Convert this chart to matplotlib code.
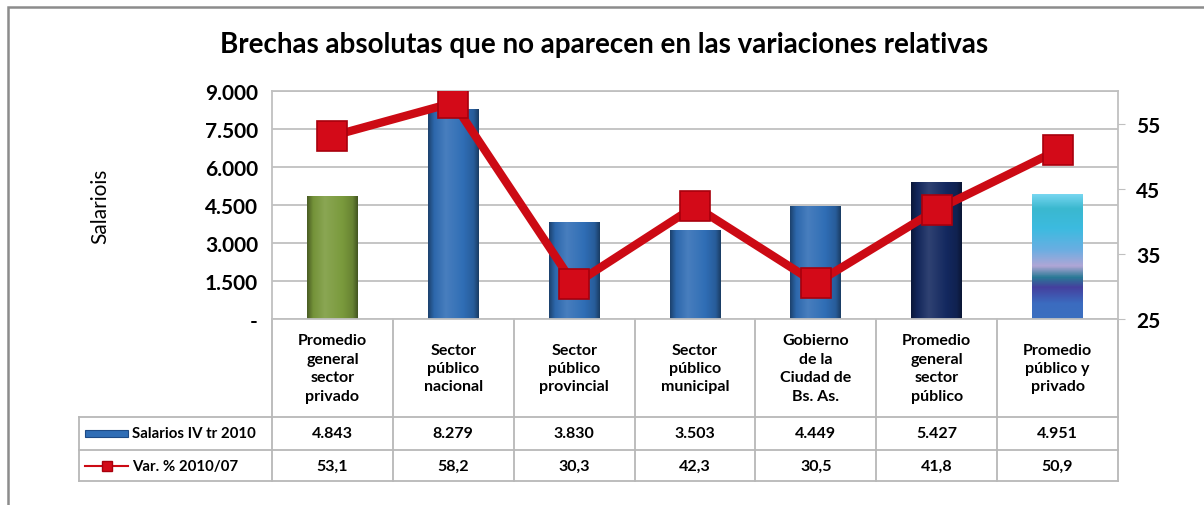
import matplotlib.pyplot as plt
import numpy as np
from matplotlib.patches import Rectangle
from matplotlib.colors import LinearSegmentedColormap
from matplotlib.ticker import FuncFormatter, FixedLocator

# Datos del gráfico
categorias = ["Promedio\ngeneral\nsector\nprivado", "Sector\npúblico\nnacional",
              "Sector\npúblico\nprovincial", "Sector\npúblico\nmunicipal",
              "Gobierno\nde la\nCiudad de\nBs. As.", "Promedio\ngeneral\nsector\npúblico",
              "Promedio\npúblico y\nprivado"]
salarios = [4843, 8279, 3830, 3503, 4449, 5427, 4951]
variacion = [53.1, 58.2, 30.3, 42.3, 30.5, 41.8, 50.9]
serie_salarios = "Salarios IV tr 2010"
serie_var = "Var. % 2010/07"
titulo = "Brechas absolutas que no aparecen en las variaciones relativas"

plt.rcParams['font.family'] = ['Lato', 'DejaVu Sans']

W, H = 1204, 506
fig = plt.figure(figsize=(W / 100, H / 100), dpi=100)

# Marco exterior (cortado a la derecha y abajo como en el original)
fig.patches.append(Rectangle((8 / W, -0.05), 1.1, 1 - 8 / H + 0.05, transform=fig.transFigure,
                             fill=False, edgecolor='#8c8c8c', linewidth=1.8))

left, right, top, bottom = 272, 1118, 92, 320
ax = fig.add_axes([left / W, 1 - bottom / H, (right - left) / W, (bottom - top) / H])
x = np.arange(len(salarios))

grid_col = '#c0c0c0'
ax.set_xlim(-0.5, len(salarios) - 0.5)
ax.set_ylim(0, 9000)
ax.yaxis.set_major_locator(FixedLocator(np.arange(0, 9001, 1500)))
ax.yaxis.set_major_formatter(FuncFormatter(lambda v, p: '-' if v == 0 else f"{v:,.0f}".replace(',', '.')))
ax.grid(axis='y', color=grid_col, linewidth=1.3)
ax.set_axisbelow(True)
ax.set_xticks([])
ax.tick_params(axis='y', length=0, pad=10, labelsize=15)
for lbl in ax.get_yticklabels():
    lbl.set_fontweight('bold')
for s in ax.spines.values():
    s.set_color(grid_col)
    s.set_linewidth(1.3)
ax.set_ylabel("Salariois", fontsize=15, labelpad=68)

# Barras con degradado
base_colors = ['#7a9a3c', '#2f6db5', '#2f6db5', '#2f6db5', '#2f6db5', '#13285f', None]
bars = ax.bar(x, salarios, width=0.42, color=[c if c else '#3a8fd0' for c in base_colors],
              edgecolor='none', zorder=2)


def shade(c, f):
    c = np.array(plt.matplotlib.colors.to_rgb(c))
    return tuple(np.clip(c * f if f < 1 else c + (1 - c) * (f - 1), 0, 1))


for b, c in zip(bars, base_colors):
    x0, w, h = b.get_x(), b.get_width(), b.get_height()
    if c is None:
        cmap = LinearSegmentedColormap.from_list('g', [
            (0.0, '#3b6fbf'), (0.12, '#3b6cc0'), (0.25, '#45409e'), (0.33, '#2a7a96'),
            (0.42, '#b0a6d6'), (0.55, '#6aaee2'), (0.72, '#3cbbe0'), (0.88, '#3ab8cf'), (1.0, '#7ad8f2')])
        img = np.linspace(0, 1, 200).reshape(-1, 1)
        im = ax.imshow(img, cmap=cmap, extent=[x0, x0 + w, 0, h], origin='lower',
                       aspect='auto', zorder=2.1)
    else:
        cmap = LinearSegmentedColormap.from_list('g', [
            (0.0, shade(c, 0.6)), (0.12, shade(c, 0.95)), (0.35, shade(c, 1.12)),
            (0.7, shade(c, 1.0)), (0.9, shade(c, 0.85)), (1.0, shade(c, 0.55))])
        img = np.linspace(0, 1, 200).reshape(1, -1)
        im = ax.imshow(img, cmap=cmap, extent=[x0, x0 + w, 0, h], aspect='auto', zorder=2.1)
    im.set_clip_path(b)
ax.set_xlim(-0.5, len(salarios) - 0.5)
ax.set_ylim(0, 9000)

# Eje secundario con la variación
ax2 = ax.twinx()
ax2.set_ylim(25, 60)
ax2.set_yticks([25, 35, 45, 55])
ax2.tick_params(axis='y', length=5, color=grid_col, labelsize=15, pad=8)
for lbl in ax2.get_yticklabels():
    lbl.set_fontweight('bold')
for s in ax2.spines.values():
    s.set_visible(False)
ax2.plot(x, variacion, color='#cc0a14', linewidth=6, marker='s', markersize=22,
         markerfacecolor='#d30a18', markeredgecolor='#a8000c', markeredgewidth=1.2,
         solid_joinstyle='miter', zorder=5)

# Tabla de datos bajo el gráfico
tr = ax.get_xaxis_transform()
px = 1 / (bottom - top)
y_cat = -(418 - bottom) * px
y_r1 = -(451 - bottom) * px
y_r2 = -(482 - bottom) * px
x_leg = (79 - left) / (right - left)
lc = '#b8b8b8'

for i in range(len(salarios) + 1):
    ax.plot([i - 0.5, i - 0.5], [0, y_r2], transform=tr, color=lc, lw=1.3, clip_on=False)
for yy in (y_cat, y_r1, y_r2):
    ax.plot([x_leg, 1], [yy, yy], transform=ax.transAxes, color=lc, lw=1.3, clip_on=False)
ax.plot([x_leg, x_leg], [y_cat, y_r2], transform=ax.transAxes, color=lc, lw=1.3, clip_on=False)

for i, cat in enumerate(categorias):
    ax.text(i, y_cat / 2, cat, transform=tr, ha='center', va='center', fontsize=11.5,
            fontweight='bold', linespacing=1.4)
    ax.text(i, (y_cat + y_r1) / 2, f"{salarios[i]:,.0f}".replace(',', '.'), transform=tr,
            ha='center', va='center', fontsize=11.5, fontweight='bold')
    ax.text(i, (y_r1 + y_r2) / 2, f"{variacion[i]:.1f}".replace('.', ','), transform=tr,
            ha='center', va='center', fontsize=11.5, fontweight='bold')

# Claves de leyenda en la tabla
def fx(p):
    return (p - left) / (right - left)

ym1 = (y_cat + y_r1) / 2
ax.add_patch(Rectangle((fx(85), ym1 - 3.5 * px), fx(128) - fx(85), 7 * px, transform=ax.transAxes,
                       facecolor='#2f6db5', edgecolor='#1d4a85', lw=0.8, clip_on=False))
ax.text(fx(132), ym1, serie_salarios, transform=ax.transAxes, ha='left', va='center',
        fontsize=10.8, fontweight='bold')
ym2 = (y_r1 + y_r2) / 2
ax.plot([fx(85), fx(128)], [ym2, ym2], transform=ax.transAxes, color='#cc0a14', lw=1.5,
        marker=None, clip_on=False)
ax.plot([fx(106.5)], [ym2], transform=ax.transAxes, marker='s', markersize=7,
        color='#d30a18', markeredgecolor='#a8000c', clip_on=False)
ax.text(fx(132), ym2, serie_var, transform=ax.transAxes, ha='left', va='center',
        fontsize=10.8, fontweight='bold')

fig.text(604 / W, 1 - 45 / H, titulo, ha='center', va='center', fontsize=20, fontweight='bold')

fig.savefig('out.png', dpi=100)
